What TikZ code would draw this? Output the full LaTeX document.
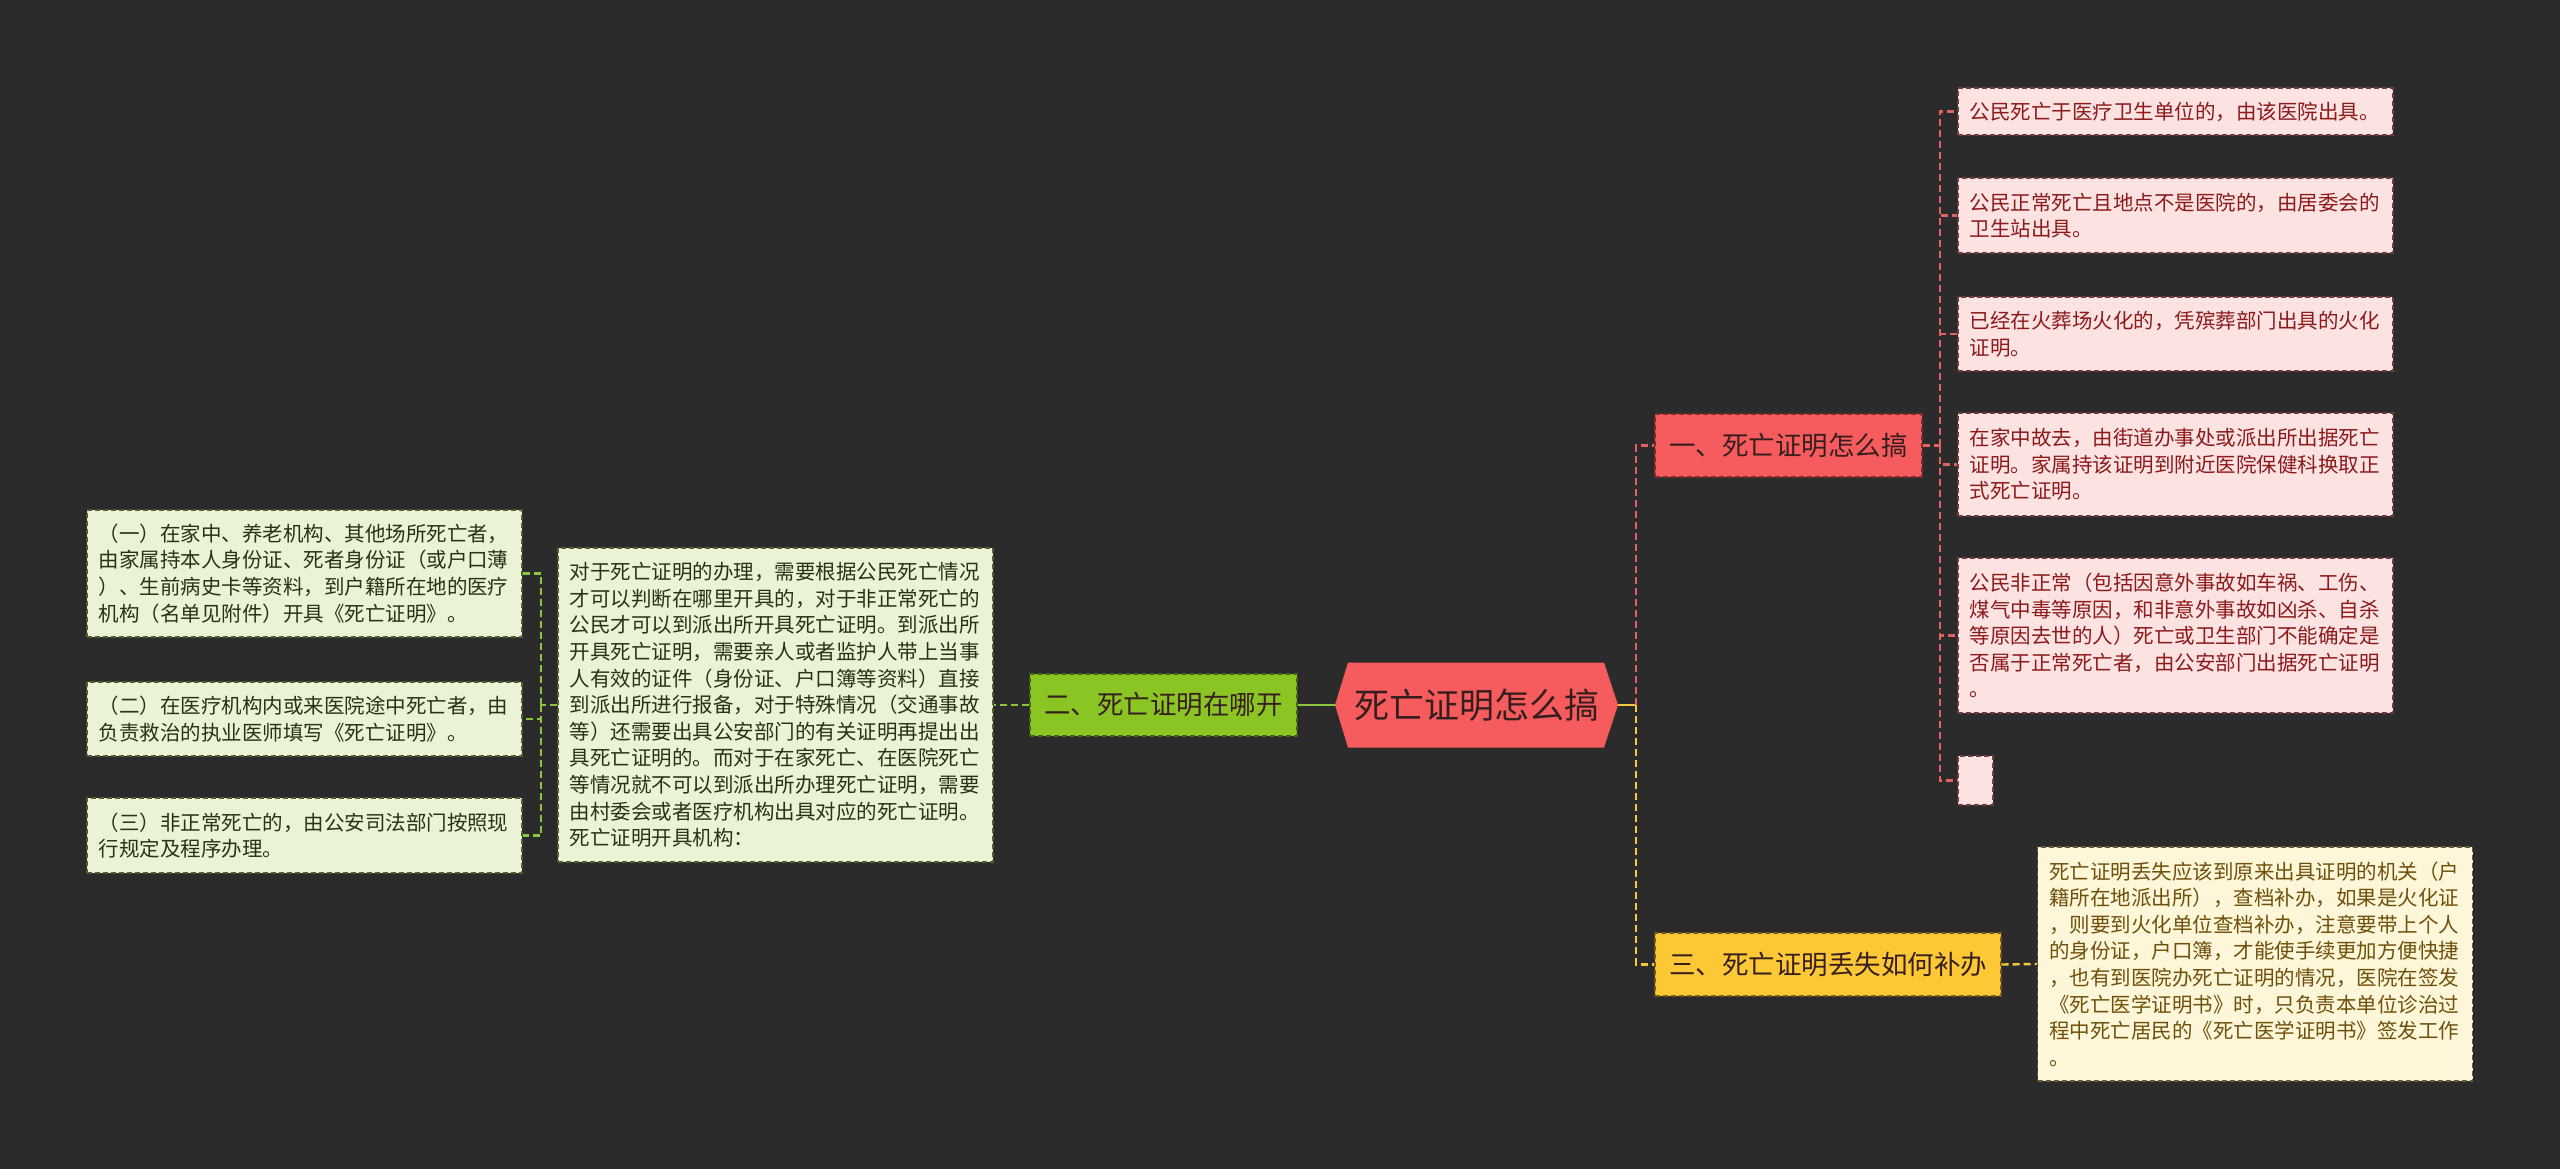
\documentclass[tikz,border=0pt]{standalone}
\usepackage{fontspec}
\setmainfont{Noto Sans CJK SC}
\definecolor{bgc}{RGB}{43,43,43}
\definecolor{redfill}{RGB}{246,91,93}
\definecolor{redborder}{RGB}{130,40,40}
\definecolor{greenfill}{RGB}{139,197,35}
\definecolor{greenborder}{RGB}{70,100,20}
\definecolor{yellowfill}{RGB}{252,200,54}
\definecolor{yellowborder}{RGB}{120,90,20}
\definecolor{pinkfill}{RGB}{253,226,226}
\definecolor{pinkborder}{RGB}{110,60,60}
\definecolor{pinktext}{RGB}{139,26,26}
\definecolor{lgfill}{RGB}{234,243,214}
\definecolor{lgborder}{RGB}{80,95,50}
\definecolor{lgtext}{RGB}{40,50,20}
\definecolor{crfill}{RGB}{253,246,216}
\definecolor{crborder}{RGB}{105,90,55}
\definecolor{crtext}{RGB}{110,80,10}
\definecolor{darktext}{RGB}{55,30,30}
\definecolor{redline}{RGB}{226,98,98}
\definecolor{yellowline}{RGB}{246,200,66}
\definecolor{greenline}{RGB}{140,198,63}
\begin{document}
\begin{tikzpicture}[x=1pt,y=1pt,
  boxdash/.style={line width=1.3pt, dash pattern=on 5pt off 3pt},
  leafbox/.style={rectangle, boxdash, inner xsep=11.5pt, inner ysep=0pt, align=left, text width=412pt, anchor=center, font=\fontsize{20.5pt}{26.6pt}\selectfont},
  pinkbox/.style={leafbox, fill=pinkfill, draw=pinkborder, text=pinktext},
  lgbox/.style={leafbox, fill=lgfill, draw=lgborder, text=lgtext},
  crbox/.style={leafbox, fill=crfill, draw=crborder, text=crtext},
  branchbox/.style={rectangle, boxdash, inner sep=0pt, align=center, anchor=center, text=darktext, font=\fontsize{26.5pt}{30pt}\selectfont},
  conn/.style={line width=2.4pt, dash pattern=on 7pt off 4pt},
  reddash/.style={conn, draw=redline},
  yellowdash/.style={conn, draw=yellowline},
  greendash/.style={conn, draw=greenline},
]
\fill[bgc] (0,0) rectangle (2560,-1169);
\useasboundingbox (0,0) rectangle (2560,-1169);

% root hexagon
\fill[redfill] (1335,-705) -- (1348,-662.5) -- (1604,-662.5) -- (1618,-705) -- (1604,-747.5) -- (1348,-747.5) -- cycle;
\node[text=darktext, font=\fontsize{35pt}{40pt}\selectfont, inner sep=0pt] (root) at (1476.5,-705) {死亡证明怎么搞};
\coordinate (rootL) at (1335,-705);
\coordinate (rootR) at (1618,-705);

% branches
\node[branchbox, fill=redfill, draw=redborder, minimum width=267pt, minimum height=63pt] (b1) at (1788.5,-445.5) {一、死亡证明怎么搞};
\node[branchbox, fill=greenfill, draw=greenborder, minimum width=267pt, minimum height=62pt] (b2) at (1163.5,-705) {二、死亡证明在哪开};
\node[branchbox, fill=yellowfill, draw=yellowborder, minimum width=346pt, minimum height=63pt] (b3) at (1828,-964.5) {三、死亡证明丢失如何补办};

% branch 1 children
\node[pinkbox, minimum height=47pt] (c1) at (2175.5,-111.5) {公民死亡于医疗卫生单位的，由该医院出具。};
\node[pinkbox, minimum height=75pt] (c2) at (2175.5,-215.5) {公民正常死亡且地点不是医院的，由居委会的\\卫生站出具。};
\node[pinkbox, minimum height=74pt] (c3) at (2175.5,-334) {已经在火葬场火化的，凭殡葬部门出具的火化\\证明。};
\node[pinkbox, minimum height=103pt] (c4) at (2175.5,-464.5) {在家中故去，由街道办事处或派出所出据死亡\\证明。家属持该证明到附近医院保健科换取正\\式死亡证明。};
\node[pinkbox, minimum height=155pt] (c5) at (2175.5,-635.5) {公民非正常（包括因意外事故如车祸、工伤、\\煤气中毒等原因，和非意外事故如凶杀、自杀\\等原因去世的人）死亡或卫生部门不能确定是\\否属于正常死亡者，由公安部门出据死亡证明\\。};
\node[rectangle, boxdash, fill=pinkfill, draw=pinkborder, minimum width=35pt, minimum height=49pt, inner sep=0pt] (c6) at (1975.5,-780.5) {};

% branch 3 child
\node[crbox, minimum height=234pt] (y1) at (2255,-964) {死亡证明丢失应该到原来出具证明的机关（户\\籍所在地派出所），查档补办，如果是火化证\\，则要到火化单位查档补办，注意要带上个人\\的身份证，户口簿，才能使手续更加方便快捷\\，也有到医院办死亡证明的情况，医院在签发\\《死亡医学证明书》时，只负责本单位诊治过\\程中死亡居民的《死亡医学证明书》签发工作\\。};

% branch 2 child
\node[lgbox, minimum height=314pt] (g) at (775.5,-705) {对于死亡证明的办理，需要根据公民死亡情况\\才可以判断在哪里开具的，对于非正常死亡的\\公民才可以到派出所开具死亡证明。到派出所\\开具死亡证明，需要亲人或者监护人带上当事\\人有效的证件（身份证、户口簿等资料）直接\\到派出所进行报备，对于特殊情况（交通事故\\等）还需要出具公安部门的有关证明再提出出\\具死亡证明的。而对于在家死亡、在医院死亡\\等情况就不可以到派出所办理死亡证明，需要\\由村委会或者医疗机构出具对应的死亡证明。\\死亡证明开具机构：};

% left leaves
\node[lgbox, minimum height=127pt] (l1) at (304.5,-573.5) {（一）在家中、养老机构、其他场所死亡者，\\由家属持本人身份证、死者身份证（或户口薄\\）、生前病史卡等资料，到户籍所在地的医疗\\机构（名单见附件）开具《死亡证明》。};
\node[lgbox, minimum height=74pt] (l2) at (304.5,-719) {（二）在医疗机构内或来医院途中死亡者，由\\负责救治的执业医师填写《死亡证明》。};
\node[lgbox, minimum height=75pt] (l3) at (304.5,-835.5) {（三）非正常死亡的，由公安司法部门按照现\\行规定及程序办理。};

% connectors
\coordinate (jR) at (1636,-705);
\draw[line width=2.4pt, yellowline] (rootR) -- (jR);
\draw[reddash] (jR) |- (b1.west);
\draw[yellowdash] (jR) |- (b3.west);
\draw[line width=2.4pt, greenline] (rootL) -- (b2.east);

\coordinate (j1) at (1940,-445.5);
\draw[reddash] (b1.east) -- (j1);
\foreach \c in {c1,c2,c3,c4,c5,c6} { \draw[reddash] (j1) |- (\c.west); }

\draw[yellowdash] (b3.east) -- (y1.west);
\draw[greendash] (b2.west) -- (g.east);

\coordinate (jL) at (541,-705);
\draw[greendash] (g.west) -- (jL);
\foreach \c in {l1,l2,l3} { \draw[greendash] (jL) |- (\c.east); }
\end{tikzpicture}
\end{document}
